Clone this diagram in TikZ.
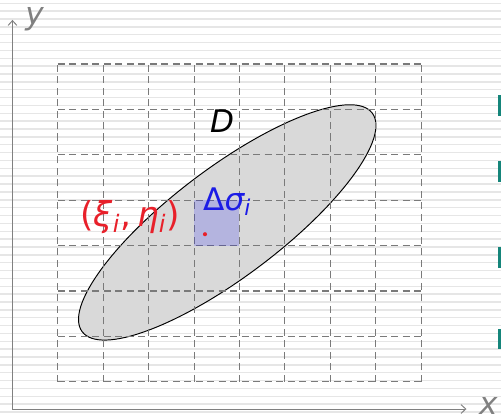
\documentclass[tikz,border=0pt]{standalone}
\usepackage{fontspec}
\setmainfont{DejaVu Sans}
\usetikzlibrary{arrows.meta}
\definecolor{dsAxis}{HTML}{808080}
\definecolor{dsGrid}{HTML}{7A7A7A}
\definecolor{dsRule}{HTML}{E6E6E6}
\definecolor{dsRegion}{HTML}{D9D9D9}
\definecolor{dsTeal}{HTML}{15857A}
\definecolor{dsRed}{HTML}{E8202A}
\definecolor{dsBlue}{HTML}{1C1CE6}
\tikzset{
  axis/.style     ={-{Straight Barb[length=3pt,width=5.5pt]},dsAxis,line width=0.6pt},
  ruling/.style   ={dsRule,line width=0.9pt},
  cellgrid/.style ={dsGrid,line width=0.7pt,dash pattern=on 4.4pt off 2.8pt},
  region/.style   ={draw=black,line width=0.6pt,fill=dsRegion},
  patch/.style    ={fill=blue,fill opacity=0.17},
  tealtick/.style ={fill=dsTeal},
  lbl/.style      ={font=\fontsize{19.5}{23}\selectfont\itshape,inner sep=0pt},
}

\begin{document}
\begin{tikzpicture}
\useasboundingbox (-0.275,-0.22) rectangle (10.76,9.009);
% ruled paper
\foreach \k in {0,...,52}
  \draw[ruling] (-0.275,{8.936-\k*0.1731}) -- (10.76,{8.936-\k*0.1731});
\foreach \yt/\yb in {6.916/6.454,5.463/5.0,3.568/3.106,1.762/1.322}
  \fill[tealtick] (10.69,\yb) rectangle (10.76,\yt);
% region D
\draw[region,rotate around={37:(4.73,4.11)}] (4.73,4.11) ellipse (4 and 1.2);
\draw[cellgrid,shift={(0,0.6)}] (1,0) grid (9,7);
\fill[patch] (4,3.6) rectangle (5,4.6);
\fill[dsRed] (4.24,3.85) circle (0.045);
% axes
\coordinate (O) at (0,0);
\coordinate (xend) at (10,0);
\coordinate (yend) at (0,8.57);
\draw[axis] (O) -- (xend);
\draw[axis] (O) -- (yend);
\node[lbl,text=dsAxis] (lblx) at (10.48,0.07) {x};
\node[lbl,text=dsAxis] (lbly) at (0.485,8.593) {y};
\node[lbl] (lblD) at (4.615,6.35) {D};
\node[lbl,text=dsBlue,anchor=base west] (lblcell) at (4.196,4.37)
  {\upshape Δ\itshape σ\textsubscript{i}};
\node[lbl,font=\fontsize{21.5}{25}\selectfont\itshape,text=dsRed,anchor=base] (lblpt)
  at (2.59,4.03)
  {\upshape(\itshape ξ\textsubscript{i}\upshape,\,\itshape η\textsubscript{i}\upshape)};
\end{tikzpicture}
\end{document}
